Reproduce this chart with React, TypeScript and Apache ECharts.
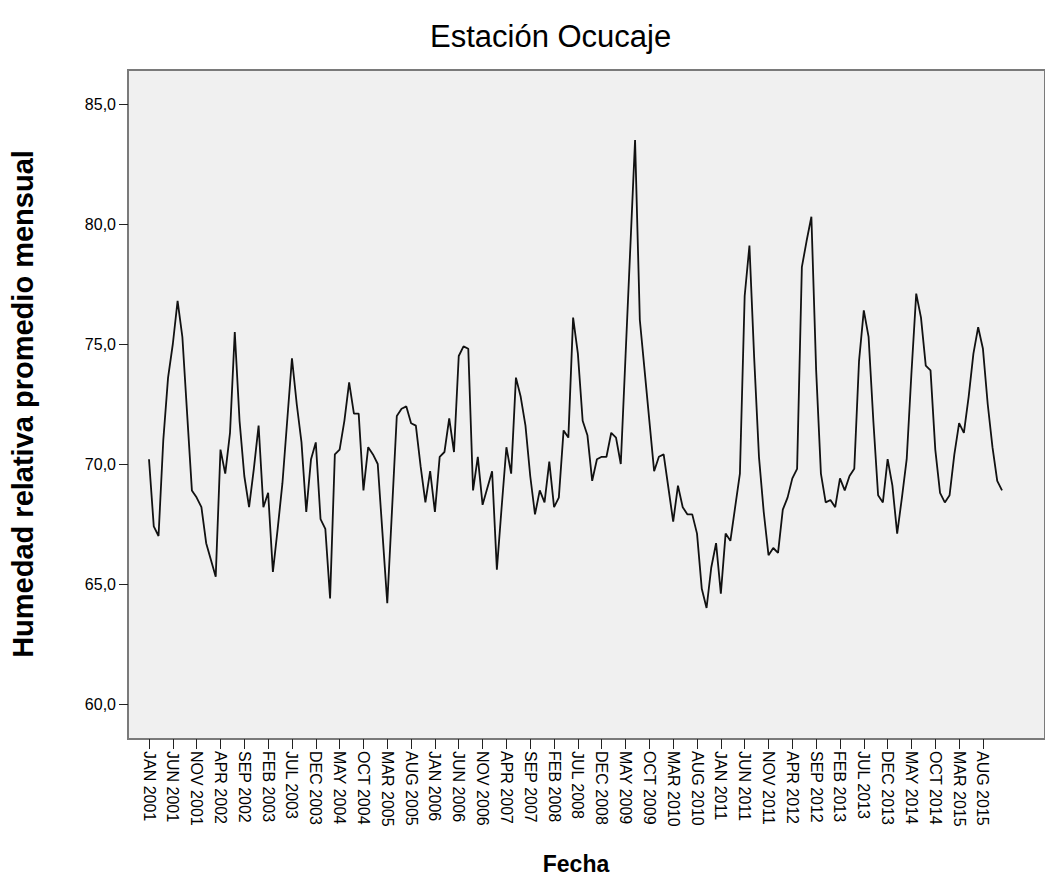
import React, { useEffect, useRef } from "react";
import * as echarts from "echarts";

const MONTHS = ["JAN", "FEB", "MAR", "APR", "MAY", "JUN", "JUL", "AUG", "SEP", "OCT", "NOV", "DEC"];
const YEARS = [2001, 2002, 2003, 2004, 2005, 2006, 2007, 2008, 2009, 2010, 2011, 2012, 2013, 2014, 2015];

const h2001 = [70.2, 67.4, 67.0, 71.0, 73.6, 75.0, 76.8, 75.3, 72.1, 68.9, 68.6, 68.2];
const h2002 = [66.7, 66.0, 65.3, 70.6, 69.6, 71.3, 75.5, 71.8, 69.5, 68.2, 69.8, 71.6];
const h2003 = [68.2, 68.8, 65.5, 67.3, 69.2, 71.8, 74.4, 72.5, 70.9, 68.0, 70.2, 70.9];
const h2004 = [67.7, 67.3, 64.4, 70.4, 70.6, 71.8, 73.4, 72.1, 72.1, 68.9, 70.7, 70.4];
const h2005 = [70.0, 67.1, 64.2, 68.1, 72.0, 72.3, 72.4, 71.7, 71.6, 69.9, 68.4, 69.7];
const h2006 = [68.0, 70.3, 70.5, 71.9, 70.5, 74.5, 74.9, 74.8, 68.9, 70.3, 68.3, 69.0];
const h2007 = [69.7, 65.6, 68.2, 70.7, 69.6, 73.6, 72.8, 71.6, 69.5, 67.9, 68.9, 68.4];
const h2008 = [70.1, 68.2, 68.6, 71.4, 71.1, 76.1, 74.6, 71.8, 71.2, 69.3, 70.2, 70.3];
const h2009 = [70.3, 71.3, 71.1, 70.0, 74.5, 79.0, 83.5, 76.0, 73.9, 71.8, 69.7, 70.3];
const h2010 = [70.4, 69.0, 67.6, 69.1, 68.2, 67.9, 67.9, 67.1, 64.8, 64.0, 65.7, 66.7];
const h2011 = [64.6, 67.1, 66.8, 68.2, 69.6, 77.0, 79.1, 74.4, 70.3, 68.0, 66.2, 66.5];
const h2012 = [66.3, 68.1, 68.6, 69.4, 69.8, 78.2, 79.3, 80.3, 73.9, 69.6, 68.4, 68.5];
const h2013 = [68.2, 69.4, 68.9, 69.5, 69.8, 74.3, 76.4, 75.3, 71.8, 68.7, 68.4, 70.2];
const h2014 = [69.1, 67.1, 68.6, 70.2, 73.8, 77.1, 76.1, 74.1, 73.9, 70.6, 68.8, 68.4];
const h2015 = [68.7, 70.4, 71.7, 71.3, 72.8, 74.6, 75.7, 74.8, 72.5, 70.7, 69.3, 68.9];

const YEAR_VALUES = [h2001, h2002, h2003, h2004, h2005, h2006, h2007, h2008, h2009, h2010, h2011, h2012, h2013, h2014, h2015];

const categories: string[] = [];
YEARS.forEach((y) => MONTHS.forEach((m) => categories.push(m + " " + y)));
const values: number[] = ([] as number[]).concat(...YEAR_VALUES);

const Y_MIN = 60;
const Y_MAX = 85;
const Y_STEP = 5;

const FONT = "'Liberation Sans', Arial, sans-serif";

export default function App() {
  const ref = useRef<HTMLDivElement>(null);
  useEffect(() => {
    if (!ref.current) return;
    const chart = echarts.init(ref.current, undefined, { renderer: "svg" });
    chart.setOption({
      animation: false,
      backgroundColor: "#ffffff",
      title: {
        text: "Estación Ocucaje",
        left: 425,
        top: 16,
        textStyle: { fontFamily: FONT, fontSize: 31, fontWeight: "normal", color: "#000" },
      },
      grid: [
        {
          left: 128,
          top: 70,
          right: -6,
          bottom: 141,
          show: true,
          backgroundColor: "#f0f0f0",
          borderColor: "#7a7a7a",
          borderWidth: 2,
        },
        { left: 149, right: 43, top: 104, bottom: 176 },
      ],
      xAxis: [
        { gridIndex: 0, type: "value", show: false, min: 0, max: 1 },
        {
          gridIndex: 1,
          type: "category",
          data: categories,
          boundaryGap: false,
          offset: 35,
          axisLine: { show: false },
          axisTick: { show: true, interval: 4, length: 10, lineStyle: { color: "#222", width: 1 } },
          axisLabel: {
            interval: 4,
            rotate: -90,
            fontSize: 16,
            fontFamily: FONT,
            color: "#000",
            margin: 12,
          },
          splitLine: { show: false },
        },
      ],
      yAxis: [
        { gridIndex: 0, type: "value", show: false, min: 0, max: 1 },
        {
          gridIndex: 1,
          type: "value",
          min: Y_MIN,
          max: Y_MAX,
          interval: Y_STEP,
          offset: 21,
          axisLine: { show: false },
          axisTick: { show: true, length: 9, lineStyle: { color: "#222", width: 1 } },
          axisLabel: {
            fontSize: 16,
            fontFamily: FONT,
            color: "#000",
            margin: 12,
            formatter: (v: number) => v.toFixed(1).replace(".", ","),
          },
          splitLine: { show: false },
        },
      ],
      graphic: [
        {
          type: "text",
          x: 23,
          y: 404,
          rotation: Math.PI / 2,
          style: {
            text: "Humedad relativa promedio mensual",
            fontFamily: FONT,
            fontSize: 29,
            fontWeight: "bold",
            fill: "#000",
            align: "center",
            verticalAlign: "middle",
          },
        },
        {
          type: "text",
          x: 576,
          y: 864,
          style: {
            text: "Fecha",
            fontFamily: FONT,
            fontSize: 23,
            fontWeight: "bold",
            fill: "#000",
            align: "center",
            verticalAlign: "middle",
          },
        },
      ],
      series: [
        {
          type: "line",
          xAxisIndex: 1,
          yAxisIndex: 1,
          data: values,
          showSymbol: false,
          symbol: "none",
          lineStyle: { color: "#111", width: 1.8 },
        },
      ],
    });
    return () => chart.dispose();
  }, []);
  return <div ref={ref} style={{ position: "fixed", left: 0, top: 0, width: 1045, height: 880 }} />;
}
